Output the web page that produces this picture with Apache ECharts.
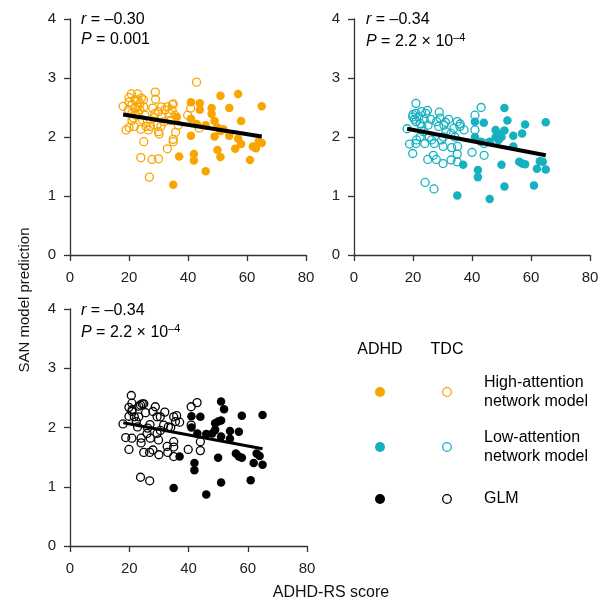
<!DOCTYPE html>
<html><head><meta charset="utf-8">
<script src="https://cdn.jsdelivr.net/npm/echarts@6/dist/echarts.min.js"></script>
<style>html,body{margin:0;padding:0;background:#fff}#c{width:607px;height:604px}</style>
</head><body><div id="c"></div>
<script>
var xTicks=[0,20,40,60,80];
var yTicks=[0,1,2,3,4];
var p1Adhd=[[35,1.19],[36.2,2.34],[37,1.67],[41,2.59],[41,2.31],[41,2.02],[42,1.71],[42,1.60],[43,2.22],[44,2.57],[44,2.46],[46,2.20],[46,1.42],[48,2.49],[48,2.39],[49,2.27],[49,2.01],[50,2.16],[50,1.78],[51,2.70],[51,2.10],[51,1.66],[52,2.13],[54,2.49],[54,2.02],[56,1.80],[57,2.73],[57,1.97],[58,2.27],[58,1.88],[61,1.61],[62,1.84],[63,1.81],[64,1.93],[65,2.52],[65,1.90]];
var p1Tdc=[[42.9,2.93],[18,2.52],[19,2.12],[20,2.16],[20,2.67],[20,2.59],[20.8,2.73],[21,2.54],[21,2.28],[21.8,2.18],[22,2.63],[22,2.49],[22.9,2.73],[23,2.63],[23,2.51],[23,2.40],[23.7,2.57],[23.7,2.46],[24,2.13],[24,1.65],[24.2,2.66],[24.9,2.63],[25,1.92],[25,2.51],[25.4,2.37],[26.2,2.25],[26.6,2.12],[26.9,1.32],[27.8,1.62],[28,2.49],[27.3,2.18],[28.5,2.33],[28.9,2.76],[29,2.64],[29.5,2.20],[30,2.09],[30.2,2.05],[30,1.63],[30,2.43],[31,2.51],[30.8,2.18],[31.9,2.26],[32.2,2.46],[33,1.80],[33,2.51],[33.7,2.40],[34.1,2.28],[34.7,2.55],[35,2.56],[35,1.96],[35,1.92],[35.6,2.37],[35.8,2.08],[36.7,2.20],[39.9,2.37],[40.9,2.49],[43.8,2.15],[21,2.40],[21.5,2.32],[24.6,2.29],[25.8,2.18],[28.8,2.40],[31,2.34],[34.6,2.46],[22.4,2.37],[19.8,2.46]];
var p2Adhd=[[35,1.01],[37,1.53],[41,2.26],[41,2.0],[42,1.44],[42,1.32],[43,1.92],[44,2.24],[46,1.92],[46,0.95],[48,2.12],[48,2.0],[49,1.95],[49,2.05],[50,1.53],[50,2.0],[51,2.49],[51,2.11],[51,1.16],[52,2.28],[54,2.02],[54,1.84],[56,1.58],[57,2.06],[57,1.55],[58,2.21],[58,1.54],[61,1.18],[62,1.46],[63,1.59],[64,1.58],[65,2.25],[65,1.45]];
var p2Tdc=[[18,2.14],[18.8,1.88],[19.9,1.72],[19.9,2.34],[20,2.38],[21,2.57],[21,2.40],[21,2.26],[21,1.89],[21.9,2.34],[22.4,2.23],[22.9,2.43],[23,2.18],[23.5,2.09],[24,1.89],[24.1,1.23],[24.3,2.40],[24.9,2.45],[25.1,2.20],[25,1.62],[27.1,1.12],[26.9,1.69],[27.2,1.89],[27.9,1.62],[28,2.26],[28.7,2.18],[28.9,2.42],[29.2,2.32],[29.7,1.95],[30.2,1.84],[30.2,1.55],[30.5,2.20],[31.2,2.09],[32.1,2.30],[32.9,2.06],[33.1,1.82],[32.9,1.61],[33.9,2.15],[35,2.26],[35.1,1.84],[35,1.71],[35,1.58],[35.9,2.18],[37.3,2.12],[40,1.74],[41,2.37],[41,2.12],[43.1,2.50],[44.1,1.69],[44.1,1.89],[25.5,2.0],[26.3,1.95],[22.4,2.0],[21.2,1.95],[30.3,2.0],[34.2,2.0],[20.5,2.3],[23.8,2.3],[26,2.3],[31,2.25],[36,2.22]];
var p3Adhd=[[35,0.98],[37,1.51],[41,2.19],[41,2.0],[42,1.40],[42,1.28],[43,1.9],[44,2.18],[46,1.89],[46,0.87],[48,1.9],[49,2.07],[49,1.96],[50,2.10],[50,1.49],[51,2.44],[51,2.12],[51,1.85],[51,1.07],[52,2.31],[54,1.94],[54,1.81],[56,1.56],[57,1.93],[57,1.51],[58,2.20],[58,1.49],[61,1.11],[62,1.40],[63,1.56],[64,1.52],[65,2.21],[65,1.37]];
var p3Tdc=[[17.9,2.06],[18.8,1.83],[19.9,1.63],[20.7,2.54],[19.9,2.34],[19.9,2.19],[20.9,2.41],[20.9,2.27],[20.9,1.82],[21.7,2.18],[22.4,2.10],[23.2,2.36],[23.8,2.38],[24.4,2.40],[24.9,2.40],[23.8,1.16],[24,1.74],[24,1.82],[24.9,1.58],[26.9,1.10],[26.9,1.58],[28,1.62],[27.1,1.82],[28,2.27],[28.8,2.35],[29.4,1.90],[29.9,1.79],[30,1.54],[30.5,2.18],[32,2.26],[32.8,1.68],[33,1.58],[33.2,2.01],[35,2.18],[35.6,2.10],[35,1.76],[35,1.67],[35,1.51],[37,2.09],[39.9,1.63],[40.9,2.35],[40.9,2.04],[42.9,2.42],[44,1.76],[44,1.61],[26,1.9],[26.2,1.99],[22.8,2.01],[31.6,2.04],[23.2,2.18],[29.4,2.18],[21,2.3],[25.5,2.25],[27,2.05],[30.5,1.95],[34,2.0],[36,2.2]];
var p1Fit=[[18,2.38],[65,2.01]];
var p2Fit=[[18,2.14],[65,1.69]];
var p3Fit=[[18,2.08],[65,1.64]];
var statR=['–0.30','–0.34','–0.34'];
var statP=['0.001','2.2 × 10','2.2 × 10'];
var statPExp=['','–4','–4'];
var legendRows=[['High-attention','network model'],['Low-attention','network model'],['GLM']];

var ORANGE='#F9A500', TEAL='#14B1C0', BLACK='#000000';
var FONT='Liberation Sans, Arial, Helvetica, sans-serif';
var AX='#333';

function xAx(i){return {gridIndex:i,type:'value',min:0,max:80,interval:20,
  axisLine:{lineStyle:{color:AX,width:1.3}},axisTick:{length:6,lineStyle:{color:AX,width:1.3}},
  axisLabel:{color:'#222',fontSize:15,fontFamily:FONT,margin:15},splitLine:{show:false}};}
function yAx(i){return {gridIndex:i,type:'value',min:0,max:4,interval:1,
  axisLine:{show:true,lineStyle:{color:AX,width:1.3}},axisTick:{show:true,length:6,lineStyle:{color:AX,width:1.3}},
  axisLabel:{color:'#222',fontSize:15,fontFamily:FONT,margin:14},splitLine:{show:false}};}
function filled(i,d,c,s){return {type:'scatter',xAxisIndex:i,yAxisIndex:i,data:d,symbol:'circle',symbolSize:s,
  itemStyle:{color:c,opacity:1},z:3,silent:true};}
function open(i,d,c,s){return {type:'scatter',xAxisIndex:i,yAxisIndex:i,data:d,symbol:'circle',symbolSize:s,
  itemStyle:{color:'rgba(0,0,0,0)',borderColor:c,borderWidth:1.3,opacity:1},z:2,silent:true};}
function fit(i,d,w){return {type:'line',xAxisIndex:i,yAxisIndex:i,data:d,symbol:'none',
  lineStyle:{color:'#000',width:w},z:5,silent:true};}

var rich={i:{fontStyle:'italic',fontSize:16,fontFamily:FONT,lineHeight:20,color:'#000'},
  n:{fontSize:16,fontFamily:FONT,lineHeight:20,color:'#000'},
  s:{fontSize:11,fontFamily:FONT,lineHeight:11,verticalAlign:'top',color:'#000'}};
function stat(x,y,k){
  var pt='{i|P}{n| = '+statP[k]+'}'+(statPExp[k]?'{s|'+statPExp[k]+'}':'');
  return [
   {type:'text',left:x,top:y,style:{text:'{i|r}{n| = '+statR[k]+'}',rich:rich}},
   {type:'text',left:x,top:y+20,style:{text:pt,rich:rich}}
  ];
}
var g=[];
g=g.concat(stat(81,12,0),stat(366,12,1),stat(81,303,2));
g.push({type:'text',x:331,y:593,style:{text:'ADHD-RS score',fontSize:16,fontFamily:FONT,fill:'#111',align:'center',verticalAlign:'middle'}});
g.push({type:'text',x:25,y:300,rotation:Math.PI/2,style:{text:'SAN model prediction',fontSize:15,fontFamily:FONT,fill:'#111',align:'center',verticalAlign:'middle'}});
g.push({type:'text',x:380,y:350,style:{text:'ADHD',fontSize:16,fontFamily:FONT,fill:'#000',align:'center',verticalAlign:'middle'}});
g.push({type:'text',x:447,y:350,style:{text:'TDC',fontSize:16,fontFamily:FONT,fill:'#000',align:'center',verticalAlign:'middle'}});
var legCols=[ORANGE,TEAL,BLACK], legY=[392,447,499];
for(var k=0;k<3;k++){
  g.push({type:'circle',shape:{cx:380,cy:legY[k],r:5},style:{fill:legCols[k]}});
  g.push({type:'circle',shape:{cx:447,cy:legY[k],r:4.3},style:{fill:'none',stroke:legCols[k],lineWidth:1.3}});
  g.push({type:'text',x:484,y:legY[k],style:{text:legendRows[k].join('\n'),fontSize:16,lineHeight:19,fontFamily:FONT,fill:'#000',verticalAlign:'middle'}});
}

var chart=echarts.init(document.getElementById('c'),null,{renderer:'canvas'});
chart.setOption({
  animation:false,backgroundColor:'#fff',
  grid:[{left:70,top:19,width:236,height:236},{left:354,top:19,width:236,height:236},{left:70,top:309,width:237,height:237}],
  xAxis:[xAx(0),xAx(1),xAx(2)],
  yAxis:[yAx(0),yAx(1),yAx(2)],
  series:[
    open(0,p1Tdc,ORANGE,8),filled(0,p1Adhd,ORANGE,8.5),fit(0,p1Fit,4),
    open(1,p2Tdc,TEAL,8),filled(1,p2Adhd,TEAL,8.5),fit(1,p2Fit,4),
    open(2,p3Tdc,BLACK,8),filled(2,p3Adhd,BLACK,8.5),fit(2,p3Fit,3)
  ],
  graphic:g
});
</script></body></html>
